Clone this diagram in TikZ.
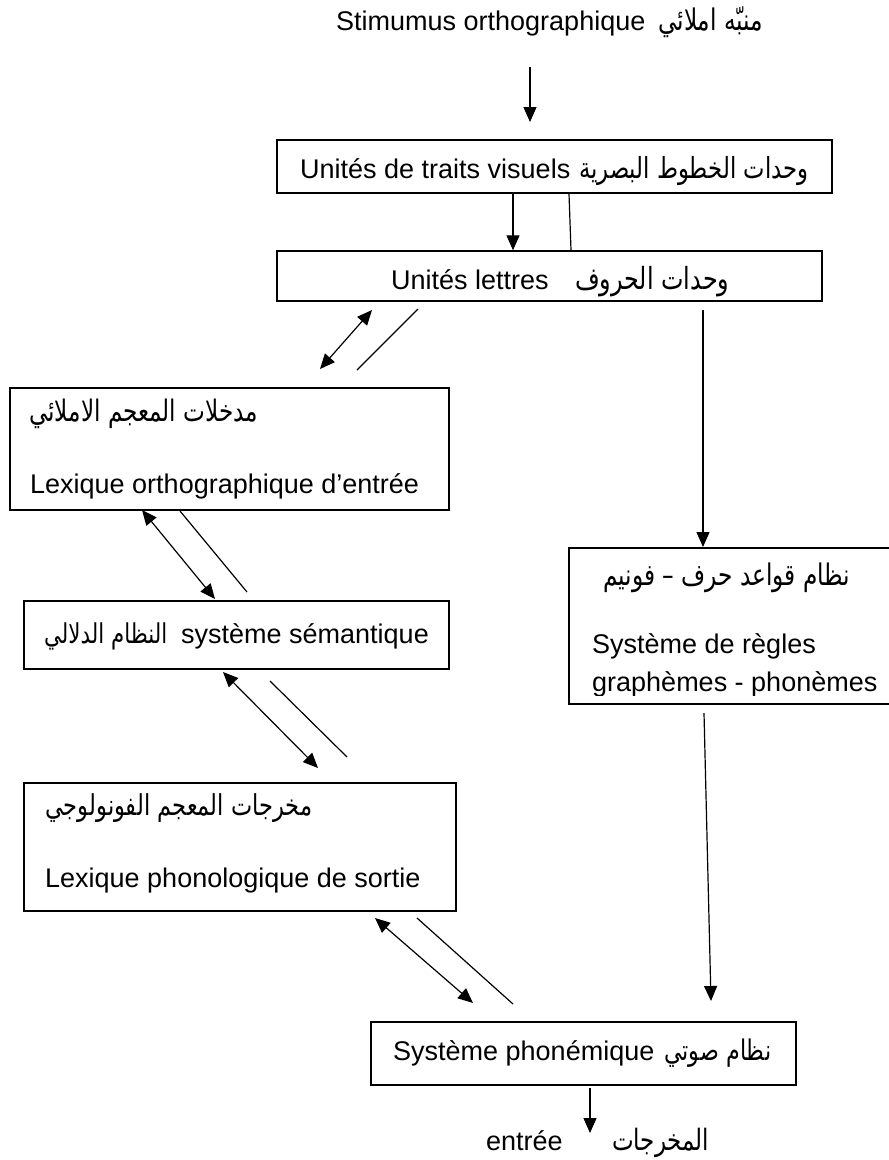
\documentclass[tikz,border=0pt]{standalone}
\usepackage{fontspec}
\usepackage{graphicx}
\setmainfont{Liberation Sans}
\newfontfamily\arabicfont[Script=Arabic]{DejaVu Sans}
\TeXXeTstate=1
\usetikzlibrary{arrows.meta}

% Arabic label fitted to a given width (in pt), drawn a little taller
\newcommand{\arlabel}[2]{\scalebox{1}[1.28]{\resizebox{#1pt}{!}{\arabicfont #2}}}

\begin{document}
\begin{tikzpicture}[x=1pt,y=-1pt,
  box/.style={draw, line width=1.5pt, rectangle, inner sep=0pt},
  link/.style={line width=1.2pt},
  tip/.style={-{Triangle[length=15pt,width=13pt]}},
  twoway/.style={{Triangle[length=15pt,width=13pt]}-{Triangle[length=15pt,width=13pt]}},
  lat/.style={inner sep=0pt, anchor=base west, font=\fontsize{27}{31}\selectfont},
  arb/.style={inner sep=0pt, anchor=base west},
]
\useasboundingbox (0,0) rectangle (889,1160);

% ---- boxes ----
\node[box, minimum width=555pt, minimum height=53pt] (b1) at (554.5,166.5) {};
\node[box, minimum width=545pt, minimum height=50pt] (b2) at (549.5,276) {};
\node[box, minimum width=439pt, minimum height=122pt] (b3) at (229.5,449) {};
\node[box, minimum width=425pt, minimum height=68pt] (bs) at (236.5,635) {};
\node[box, minimum width=432pt, minimum height=128pt] (b4) at (240,847) {};
\node[box, minimum width=323pt, minimum height=156pt] (bR) at (730.5,626) {};
\node[box, minimum width=425pt, minimum height=63pt] (b5) at (583.5,1053.5) {};

% ---- texts ----
\node[lat] (t0) at (336,30) {Stimumus orthographique};
\node[arb] (t0a) at (658,30) {\arlabel{105}{\beginR منبّه املائي\endR}};

\node[lat] (t1) at (300,178) {Unités de traits visuels};
\node[arb] (t1a) at (579,178) {\arlabel{229}{\beginR وحدات الخطوط البصرية\endR}};

\node[lat] (t2) at (391,289) {Unités lettres};
\node[arb] (t2a) at (575,289) {\arlabel{154}{\beginR وحدات الحروف\endR}};

\node[arb] (t3a) at (29,421) {\arlabel{229}{\beginR مدخلات المعجم الاملائي\endR}};
\node[lat] (t3) at (30,493) {Lexique orthographique d’entrée};

\node[arb] (tsa) at (44,643) {\arlabel{123}{\beginR النظام الدلالي\endR}};
\node[lat] (ts) at (181,643) {système sémantique};

\node[arb] (t4a) at (45,815) {\arlabel{267}{\beginR مخرجات المعجم الفونولوجي\endR}};
\node[lat] (t4) at (45,887) {Lexique phonologique de sortie};

\node[arb] (tRa) at (603,585) {\arlabel{247}{\beginR نظام قواعد حرف – فونيم\endR}};
\node[lat] (tR1) at (592,653) {Système de règles};
\begin{scope}
  \clip (569,660) rectangle (889,695);
  \node[lat] (tR2) at (592,691) {graphèmes - phonèmes};
\end{scope}

\node[lat] (t5) at (393,1060) {Système phonémique};
\node[arb] (t5a) at (664,1060) {\arlabel{107}{\beginR نظام صوتي\endR}};

\node[lat] (t6) at (486,1150) {entrée};
\node[arb] (t6a) at (612,1150) {\arlabel{97}{\beginR المخرجات\endR}};

% ---- connector end points ----
\coordinate (s0) at (530,67);   \coordinate (s1) at (530,122);
\coordinate (v1) at (513,0);    \coordinate (v2) at (569,0);  \coordinate (v3) at (571,0);
\coordinate (d1a) at (320,369); \coordinate (d1b) at (372,310);
\coordinate (l1a) at (357,370); \coordinate (l1b) at (418,309);
\coordinate (d2a) at (142,510); \coordinate (d2b) at (215,599);
\coordinate (l2a) at (180,511); \coordinate (l2b) at (247,592);
\coordinate (d3a) at (223,672); \coordinate (d3b) at (318,768);
\coordinate (l3a) at (270,681); \coordinate (l3b) at (347,757);
\coordinate (d4a) at (375,918); \coordinate (d4b) at (473,1003);
\coordinate (l4a) at (417,918); \coordinate (l4b) at (513,1004);
\coordinate (r1a) at (703,310); \coordinate (r1b) at (703,547);
\coordinate (r2a) at (704,713); \coordinate (r2b) at (711,1001);
\coordinate (o1) at (590,1088); \coordinate (o2) at (590,1133);

% ---- connectors ----
\draw[link,tip] (s0) -- (s1);
\draw[link,tip] (b1.south -| v1) -- (b2.north -| v1);
\draw[link] (b1.south -| v2) -- (b2.north -| v3);
\draw[link,twoway] (d1a) -- (d1b);
\draw[link] (l1a) -- (l1b);
\draw[link,twoway] (d2a) -- (d2b);
\draw[link] (l2a) -- (l2b);
\draw[link,twoway] (d3a) -- (d3b);
\draw[link] (l3a) -- (l3b);
\draw[link,twoway] (d4a) -- (d4b);
\draw[link] (l4a) -- (l4b);
\draw[link,tip] (r1a) -- (r1b);
\draw[link,tip] (r2a) -- (r2b);
\draw[link,tip] (o1) -- (o2);
\end{tikzpicture}
\end{document}
